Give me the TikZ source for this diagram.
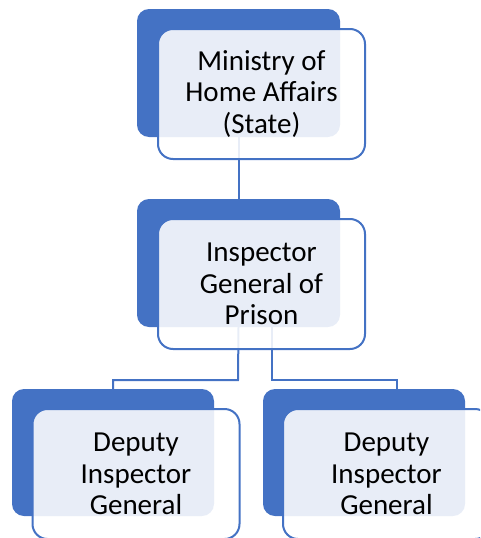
\documentclass[tikz,border=0pt]{standalone}
\usepackage{fontspec}
\setmainfont{Carlito}
\definecolor{accent}{HTML}{4472C4}
\begin{document}
\begin{tikzpicture}[x=1pt,y=-1pt,
  back/.style={fill=accent,draw=none,rounded corners=12pt,minimum width=203pt,minimum height=128pt,inner sep=0pt},
  front/.style={fill=white,fill opacity=0.88,text opacity=1,draw=accent,line width=2pt,rounded corners=15pt,minimum width=207pt,minimum height=130pt,inner sep=0pt,align=center,font=\fontsize{29}{31.5}\selectfont,text=black},
  link/.style={draw=accent,line width=2pt}]
\useasboundingbox (0,0) rectangle (480,538);
\clip (0,0) rectangle (480,538);
% connectors behind
\node[back,draw=none,fill=none] (b1) at (238.5,73) {};
\node[back,draw=none,fill=none] (b2) at (238.5,263) {};
\node[back,draw=none,fill=none,minimum width=202pt,minimum height=127pt] (b3) at (113,452.5) {};
\node[back,draw=none,fill=none,minimum width=202pt,minimum height=127pt] (b4) at (364,452.5) {};
\coordinate (j1) at (238,380);
\coordinate (j2) at (272,380);
\coordinate (e4) at (397,389);
\draw[link] (b1.south) -- (b2.north);
\draw[link] (b2.south) -- (j1) -| (b3.north);
\draw[link] (b2.south -| j2) -- (j2) -| (e4);
% blue backs
\node[back] at (b1) {};
\node[back] at (b2) {};
\node[back,minimum width=202pt,minimum height=127pt] at (b3) {};
\node[back,minimum width=202pt,minimum height=127pt] at (b4) {};
% front boxes
\node[front] (w1) at (261.5,94) {Ministry of\\Home Affairs\\(State)};
\node[front] (w2) at (261.5,284) {Inspector\\General of\\Prison};
\node[front] (w3) at (136,474) {Deputy\\Inspector\\General};
\node[front] (w4) at (386.5,474) {Deputy\\Inspector\\General};
\end{tikzpicture}
\end{document}
